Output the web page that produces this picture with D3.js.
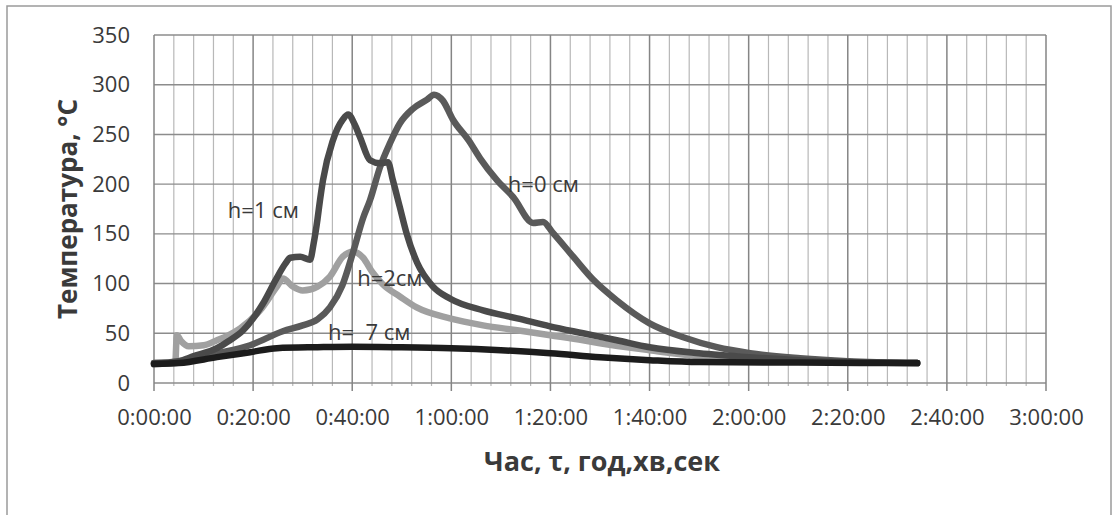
<!DOCTYPE html>
<html>
<head>
<meta charset="utf-8">
<script src="https://cdn.jsdelivr.net/npm/d3@7"></script>
<style>
  body { margin: 0; background: #fff; }
  svg { display: block; }
  text { font-family: "Open Sans", "DejaVu Sans", sans-serif; fill: #3a3a3a; }
</style>
</head>
<body>
<script>
// time in minutes, temperature in °C
var h0Time = [0, 6, 12, 19.4, 26, 30, 33, 35.5, 38, 40.2, 42.2, 43.6, 45.6, 47.6, 49.6, 52.3, 55.1, 56.5, 58.3, 60.3, 63.5, 65.8, 69.2, 72.5, 76.5, 78.5, 80.5, 84.6, 88.6, 93.4, 100, 106.8, 113.6, 120.3, 130.4, 140, 154];
var h0Temp = [19, 21, 29, 38, 52, 58, 64, 76, 98, 132, 166, 184, 217, 241, 261, 276, 285, 290, 284, 265, 244, 226, 204, 187, 161, 162, 151, 127, 104, 83, 60, 46, 36, 30, 25, 22, 20];

var h1Time = [0, 5, 8, 12.7, 15, 18, 22, 24.7, 26.5, 27.5, 29.5, 31.5, 32.2, 33, 33.5, 34.1, 36.1, 38.1, 39.2, 40.5, 41.6, 43.6, 45.6, 47.2, 48.2, 49.6, 51, 53.1, 56.3, 59.7, 66.4, 73.3, 79.9, 86.6, 93.4, 100, 110, 120, 130, 140, 154];
var h1Temp = [20, 22, 27, 35, 42, 53, 80, 105, 120, 126, 127, 124, 140, 165, 184, 204, 244, 265, 270, 260, 247, 224, 221, 222, 204, 177, 150, 121, 97, 85, 73, 65, 57, 50, 43, 36, 30, 26, 23, 21, 20];

var h2Time = [0, 4.3, 4.6, 5.5, 7, 10, 12.7, 15, 17.4, 21.4, 24.8, 26, 28, 30, 33, 35.5, 38.1, 40.2, 42.2, 44, 46.2, 49.6, 53, 59.7, 66.4, 73.3, 80, 86.6, 90, 100, 110, 120, 130, 140, 154];
var h2Temp = [20, 21, 48, 42, 37, 38, 43, 48, 55, 73, 97, 105, 97, 93, 97, 107, 127, 132, 126, 112, 99, 87, 76, 65, 58, 53, 48, 43, 40, 33, 27, 25, 23, 21, 20];

var h7Time = [0, 5, 12.7, 19.4, 24.8, 33, 40, 50, 60, 70, 80, 90, 100, 110, 130, 154];
var h7Temp = [19, 20, 26, 31, 35, 36, 36.5, 36, 35, 33, 30, 26, 23, 21, 20.5, 20];

var seriesNames = ["h=0 см", "h=1 см", "h=2см", "h=  7 см"];
var seriesColors = ["#5a5a5a", "#4a4a4a", "#a0a0a0", "#1c1c1c"];
// label anchor points (minutes, °C)
var labelTime = [71.4, 14.9, 41, 35.1];
var labelTemp = [192, 166, 98, 43];

var yTicks = [0, 50, 100, 150, 200, 250, 300, 350];
var xMajorTicks = [0, 20, 40, 60, 80, 100, 120, 140, 160, 180];

var W = 1114, H = 515;
var margin = { left: 154, right: 68, top: 35, bottom: 132 };

var svg = d3.select("body").append("svg")
    .attr("width", W)
    .attr("height", H);

// outer chart border
svg.append("rect")
    .attr("x", 7).attr("y", 6)
    .attr("width", 1104).attr("height", 520)
    .attr("fill", "none")
    .attr("stroke", "#9a9a9a")
    .attr("stroke-width", 1.5);

var x = d3.scaleLinear().domain([0, 180]).range([margin.left, W - margin.right]);
var y = d3.scaleLinear().domain([0, 350]).range([H - margin.bottom, margin.top]);

function fmtTime(m) {
  var h = Math.floor(m / 60), mm = m % 60;
  return h + ":" + (mm < 10 ? "0" : "") + mm + ":00";
}

var grid = svg.append("g");

// minor vertical grid every 4 min
grid.selectAll("line.minor")
    .data(d3.range(0, 181, 4).filter(function(d) { return d % 20 !== 0; }))
  .enter().append("line")
    .attr("x1", function(d) { return x(d); })
    .attr("x2", function(d) { return x(d); })
    .attr("y1", y(350))
    .attr("y2", y(0) + 3)
    .attr("stroke", "#b8b8b8")
    .attr("stroke-width", 1.2);

// horizontal grid
grid.selectAll("line.h")
    .data(yTicks)
  .enter().append("line")
    .attr("x1", x(0))
    .attr("x2", x(180))
    .attr("y1", function(d) { return y(d); })
    .attr("y2", function(d) { return y(d); })
    .attr("stroke", "#8c8c8c")
    .attr("stroke-width", 1.4);

// major vertical grid every 20 min
grid.selectAll("line.major")
    .data(xMajorTicks)
  .enter().append("line")
    .attr("x1", function(d) { return x(d); })
    .attr("x2", function(d) { return x(d); })
    .attr("y1", y(350))
    .attr("y2", y(0) + 8)
    .attr("stroke", "#858585")
    .attr("stroke-width", 1.5);

// x axis labels
var xAxis = d3.axisBottom(x)
    .tickValues(xMajorTicks)
    .tickFormat(fmtTime)
    .tickSize(0)
    .tickPadding(26);
svg.append("g")
    .attr("transform", "translate(0," + y(0) + ")")
    .call(xAxis)
    .call(function(g) { g.select(".domain").remove(); })
    .selectAll("text")
    .style("font-size", "22px")
    .style("font-family", "'Open Sans', sans-serif")
    .attr("fill", "#3a3a3a");

// y axis labels
var yAxis = d3.axisLeft(y)
    .tickValues(yTicks)
    .tickSize(0)
    .tickPadding(24);
svg.append("g")
    .attr("transform", "translate(" + x(0) + ",0)")
    .call(yAxis)
    .call(function(g) { g.select(".domain").remove(); })
    .selectAll("text")
    .style("font-size", "22px")
    .style("font-family", "'Open Sans', sans-serif")
    .attr("fill", "#3a3a3a");

// series
var series = [
  { t: h0Time, v: h0Temp },
  { t: h1Time, v: h1Temp },
  { t: h2Time, v: h2Temp },
  { t: h7Time, v: h7Temp }
];

var line = d3.line()
    .x(function(d) { return x(d[0]); })
    .y(function(d) { return y(d[1]); })
    .curve(d3.curveMonotoneX);

// draw order: light gray under the darker ones
var order = [2, 0, 1, 3];
svg.append("g").selectAll("path")
    .data(order)
  .enter().append("path")
    .attr("d", function(i) { return line(d3.zip(series[i].t, series[i].v)); })
    .attr("fill", "none")
    .attr("stroke", function(i) { return seriesColors[i]; })
    .attr("stroke-width", 6.5)
    .attr("stroke-linecap", "round")
    .attr("stroke-linejoin", "round");

// in-plot labels
svg.append("g").selectAll("text")
    .data(seriesNames)
  .enter().append("text")
    .attr("x", function(d, i) { return x(labelTime[i]); })
    .attr("y", function(d, i) { return y(labelTemp[i]); })
    .attr("xml:space", "preserve")
    .style("white-space", "pre")
    .style("font-size", "22px")
    .attr("fill", "#333")
    .text(function(d) { return d; });

// axis titles
svg.append("text")
    .attr("transform", "translate(77," + 209 + ") rotate(-90)")
    .attr("text-anchor", "middle")
    .style("font-size", "26px")
    .style("font-weight", "bold")
    .attr("fill", "#333")
    .text("Температура, °С");

svg.append("text")
    .attr("x", 602)
    .attr("y", 471)
    .attr("text-anchor", "middle")
    .style("font-size", "27px")
    .style("font-weight", "bold")
    .attr("fill", "#333")
    .text("Час, τ, год,хв,сек");
</script>
</body>
</html>
